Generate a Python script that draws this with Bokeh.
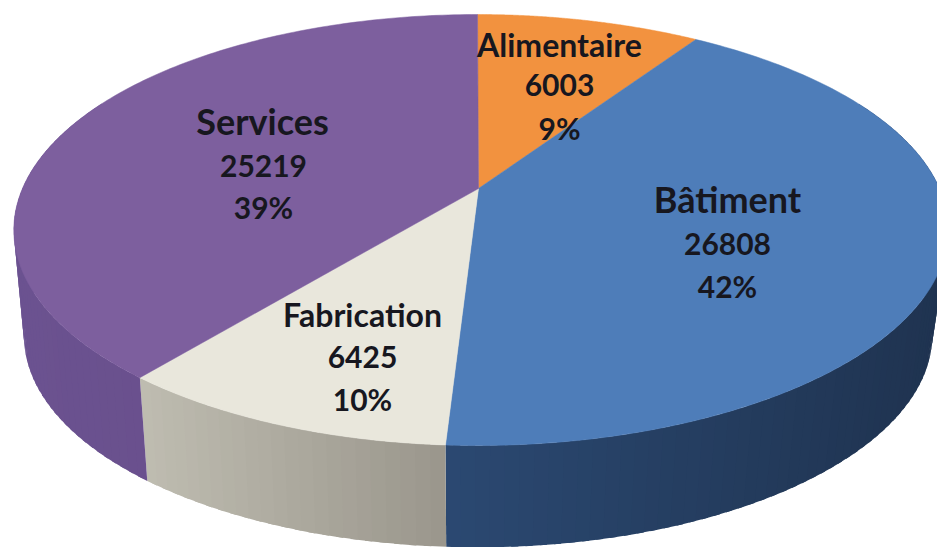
import math
from bokeh.plotting import figure
from bokeh.models import Range1d
from bokeh.core.properties import value
from bokeh.embed import file_html
from bokeh.resources import INLINE

categories = ["Alimentaire", "Bâtiment", "Fabrication", "Services"]
values = [6003, 26808, 6425, 25219]
percents = ["9%", "42%", "10%", "39%"]
top_colors = ["#F2923F", "#4E7DB9", "#E9E7DC", "#7D5F9E"]
side_from = ["#B86A28", "#2B4972", "#BFBDB1", "#6B5290"]
side_to = ["#B86A28", "#1F3350", "#9B978D", "#664C88"]

# projection of the pie disc (image pixels)
X0, Y0, R, H, K = 477.0, 188.0, 455.0, 207.5, 0.1926
SX_LEFT, SX_RIGHT, SY, DEPTH = 0.978, 0.966, 0.98, 107.0


def top_pt(theta):
    u, v = math.sin(theta), math.cos(theta)
    w = 1 + K * v
    return X0 + (R * u + 7 * u * max(u, 0)) / w, Y0 - H * v / w


def bottom_pt(theta):
    x, y = top_pt(theta)
    sx = SX_RIGHT if x > X0 else SX_LEFT
    return X0 + (x - X0) * sx, Y0 + DEPTH + (y - Y0) * SY


def mix(a, b, t):
    t = max(0.0, min(1.0, t))
    ca = [int(a[i:i + 2], 16) for i in (1, 3, 5)]
    cb = [int(b[i:i + 2], 16) for i in (1, 3, 5)]
    return "#%02x%02x%02x" % tuple(round(p + (q - p) * t) for p, q in zip(ca, cb))


W, HT = 937, 547
p = figure(width=W, height=HT, output_backend="svg", toolbar_location=None,
           x_range=Range1d(0, W), y_range=Range1d(HT, 0),
           x_axis_type=None, y_axis_type=None, min_border=0,
           outline_line_color=None, background_fill_color="white")
p.grid.visible = False

total = sum(values)
edges = [0.0]
for val in values:
    edges.append(edges[-1] + val / total * 2 * math.pi)

# side wall, built as overlapping strips so that it can carry a gradient
for i in range(len(values)):
    a0, a1 = edges[i], edges[i + 1]
    n = max(2, int((a1 - a0) / math.radians(1.5)))
    step = (a1 - a0) / n
    xs_all, ys_all, cols = [], [], []
    xa = [top_pt(a0 + step * j)[0] for j in range(n + 1)]
    lo, hi = min(xa), max(xa)
    order = range(n) if i != 3 else range(n - 1, -1, -1)
    for j in order:
        t0 = a0 + step * j
        t1 = t0 + step
        if math.cos(t0 + step / 2) > 0.45:
            continue
        if i == 3:
            t0 = max(a0, t0 - 0.5 * step)   # overlap the neighbouring strip
        else:
            t1 = min(a1, t1 + 0.5 * step)
        q = [top_pt(t0), top_pt(t1), bottom_pt(t1), bottom_pt(t0)]
        xs_all.append([c[0] for c in q])
        ys_all.append([c[1] for c in q])
        tm = (xa[j] - lo) / (hi - lo)
        cols.append(mix(side_from[i], side_to[i], tm))
    if xs_all:
        p.patches(xs_all, ys_all, fill_color=cols, line_color=None)

# top face
for i in range(len(values)):
    a0, a1 = edges[i], edges[i + 1]
    n = 160
    pts = [top_pt(a0 + (a1 - a0) * j / n) for j in range(n + 1)]
    p.patch([X0 + 1] + [c[0] for c in pts], [Y0] + [c[1] for c in pts],
            fill_color=top_colors[i], line_color=top_colors[i], line_width=0.5)

# data labels
name_pos = {"Alimentaire": (559, 44, 32), "Bâtiment": (727, 198, 36),
            "Fabrication": (362, 314, 32), "Services": (262, 120, 36)}
val_pos = {"Alimentaire": (559, 84, 30), "Bâtiment": (727, 243, 30),
           "Fabrication": (362, 356, 30), "Services": (263, 165, 30)}
pct_pos = {"Alimentaire": (559, 127, 30), "Bâtiment": (727, 285, 30),
           "Fabrication": (362, 398, 30), "Services": (263, 206, 30)}


def label(txt, pos):
    p.text([pos[0]], [pos[1]], text=[txt], text_font=value("Lato"), text_font_style="bold",
           text_font_size=f"{pos[2]}px", text_align="center", text_baseline="middle",
           text_color="#17171f")


for i, c in enumerate(categories):
    label(c, name_pos[c])
    label(str(values[i]), val_pos[c])
    label(percents[i], pct_pos[c])

open("out.html", "w").write(file_html(p, INLINE))
